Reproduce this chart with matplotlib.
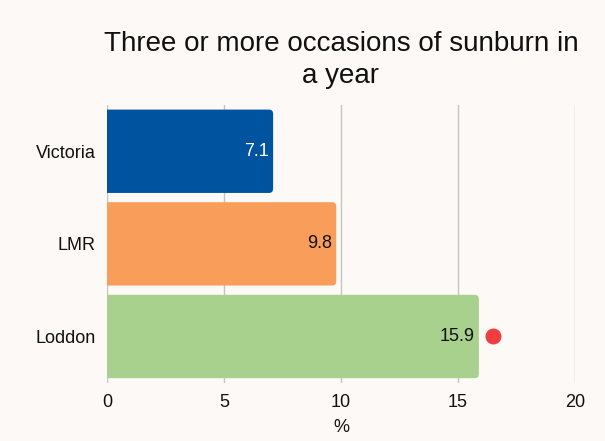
import matplotlib
matplotlib.use("Agg")
import matplotlib.pyplot as plt
from matplotlib.patches import FancyBboxPatch

# data
categories = ["Victoria", "LMR", "Loddon"]
values = [7.1, 9.8, 15.9]
bar_colors = ["#00539f", "#f89e5a", "#a9d18e"]
label_colors = ["white", "#111111", "#111111"]
marker_x = [16.5]
marker_cat = ["Loddon"]
title = "Three or more occasions of sunburn in\na year"

plt.rcParams["font.family"] = ["Liberation Sans", "DejaVu Sans"]
bg = "#fcf9f6"

fig = plt.figure(figsize=(6.05, 4.41), dpi=100, facecolor=bg)
ax = fig.add_axes([0.177, 0.132, 0.773, 0.630], facecolor=bg)

ypos = list(range(len(categories)))
bars = ax.barh(ypos, values, height=0.9, color=bar_colors, zorder=2)

# swap plain rectangles for right-rounded ones (left side hidden past x=0)
for b, c in zip(bars, bar_colors):
    x0, y0 = b.get_x(), b.get_y()
    w, h = b.get_width(), b.get_height()
    b.set_visible(False)
    p = FancyBboxPatch((x0 - 0.5, y0), w + 0.5, h,
                       boxstyle="round,pad=0,rounding_size=0.18",
                       mutation_aspect=0.25, fc=c, ec="none", zorder=2)
    ax.add_patch(p)

for y, v, lc in zip(ypos, values, label_colors):
    ax.text(v - 0.18, y, f"{v}", ha="right", va="center", color=lc,
            fontsize=13, zorder=3)

my = [categories.index(c) for c in marker_cat]
ax.scatter(marker_x, my, s=110, color="#ee3e42", zorder=3)

ax.set_xlim(0, 20)
ax.set_ylim(2.5, -0.5)
ax.set_xticks([0, 5, 10, 15, 20])
ax.set_yticks(ypos)
ax.set_yticklabels(categories)
ax.tick_params(length=0, labelsize=13, colors="#111111")
ax.tick_params(axis="y", pad=8)
ax.tick_params(axis="x", pad=8)
ax.set_xlabel("%", fontsize=13, color="#111111", labelpad=6)
ax.grid(axis="x", color="#c4c4c4", lw=1, zorder=0)
for s in ax.spines.values():
    s.set_visible(False)

fig.text(0.5635, 0.929, title, ha="center", va="top", fontsize=20,
         color="#111111", linespacing=1.3, multialignment="center")

fig.savefig("out.png", dpi=100, facecolor=bg)
